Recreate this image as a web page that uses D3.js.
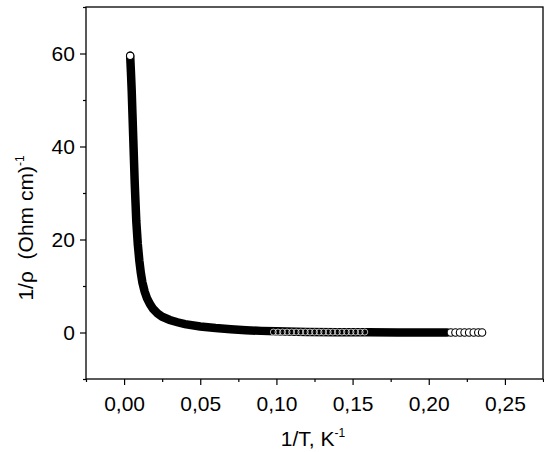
<!DOCTYPE html>
<html><head><meta charset="utf-8">
<script src="https://cdn.jsdelivr.net/npm/d3@7"></script>
<style>body{margin:0;background:#fff}text{font-family:"Liberation Sans",Arial,sans-serif}</style>
</head><body><svg id="c" width="544" height="452"></svg>
<script>
// dense measured part
var xs = [0.0040,0.0045,0.0050,0.0055,0.0060,0.0065,0.0070,0.0075,0.0080,0.0090,0.0100,0.0110,0.0120,0.0135,0.0150,0.0170,0.0190,0.0220,0.0250,0.0300,0.0350,0.0400,0.0500,0.0600,0.0700,0.0800,0.0900,0.1000,0.1200,0.1400,0.1600,0.1800,0.2000,0.2120];
var ys = [59.5,56,52,47,42,37,32,28,24,19,15.5,12.8,10.8,8.8,7.4,6.1,5.1,4.1,3.4,2.7,2.2,1.8,1.3,0.95,0.7,0.5,0.35,0.25,0.13,0.07,0.04,0.02,0.01,0.005];
// sparse points in the gap region and at the low-temperature end
var midX = [0.098,0.101,0.104,0.107,0.110,0.113,0.116,0.119,0.122,0.125,0.128,0.131,0.134,0.137,0.140,0.143,0.146,0.149,0.152,0.155,0.158];
var tailX = [0.2145,0.2175,0.2205,0.2235,0.2265,0.2295,0.2325,0.2350];
var tailY = [0,0,0,0,0,0,0,0];
var xTicks = [0,0.05,0.10,0.15,0.20,0.25];
var yTicks = [0,20,40,60];

var svg = d3.select("#c");
var L=86,R=543,T=7,B=379;
var x = d3.scaleLinear().domain([-0.025,0.275]).range([L,R]);
var y = d3.scaleLinear().domain([-10,70]).range([B,T]);

svg.append("rect").attr("x",L).attr("y",T).attr("width",R-L).attr("height",B-T)
  .attr("fill","none").attr("stroke","#000").attr("stroke-width",1.3);

var fmt = function(d){ return d3.format(".2f")(d).replace(".",","); };
var xAxis = svg.append("g").attr("transform","translate(0,"+B+")")
  .call(d3.axisBottom(x).tickValues(xTicks).tickFormat(fmt).tickSize(6).tickSizeOuter(0));
svg.append("g").attr("transform","translate(0,"+B+")")
  .call(d3.axisBottom(x).tickValues([-0.025,0.025,0.075,0.125,0.175,0.225,0.275]).tickFormat("").tickSize(3).tickSizeOuter(0));
var yAxis = svg.append("g").attr("transform","translate("+L+",0)")
  .call(d3.axisLeft(y).tickValues(yTicks).tickSize(6).tickSizeOuter(0));
svg.append("g").attr("transform","translate("+L+",0)")
  .call(d3.axisLeft(y).tickValues([-10,10,30,50,70]).tickFormat("").tickSize(3).tickSizeOuter(0));
svg.selectAll(".domain").remove();
svg.selectAll(".tick line").attr("stroke","#000").attr("stroke-width",1.2);
xAxis.selectAll("text").attr("font-size",21).attr("dy","1.1em").attr("fill","#000");
yAxis.selectAll("text").attr("font-size",21).attr("dx","-0.1em").attr("fill","#000");

var pts = xs.map(function(d,i){return [d,ys[i]];});
svg.append("path").datum(pts)
  .attr("d",d3.line().x(function(d){return x(d[0]);}).y(function(d){return y(d[1]);}))
  .attr("fill","none").attr("stroke","#000").attr("stroke-width",8.5).attr("stroke-linecap","round");
svg.selectAll(".mid").data(midX).enter().append("circle")
  .attr("cx",function(d){return x(d);}).attr("cy",y(0.1)).attr("r",3)
  .attr("fill","none").attr("stroke","#fff").attr("stroke-width",0.7);
svg.selectAll(".tail").data(tailX).enter().append("circle")
  .attr("cx",function(d){return x(d);}).attr("cy",function(d,i){return y(tailY[i]);}).attr("r",3.7)
  .attr("fill","#fff").attr("stroke","#000").attr("stroke-width",1.1);
svg.append("circle").attr("cx",x(xs[0])).attr("cy",y(ys[0])).attr("r",3.7)
  .attr("fill","#fff").attr("stroke","#000").attr("stroke-width",1.1);

svg.append("text").attr("x",313).attr("y",446).attr("text-anchor","middle").attr("font-size",21)
  .html('1/T, K<tspan dy="-9" font-size="12">-1</tspan>');
svg.append("text").attr("transform","translate(33,228) rotate(-90)").attr("text-anchor","middle").attr("font-size",21)
  .attr("xml:space","preserve")
  .html('1/ρ  (Ohm cm)<tspan dy="-9" font-size="12">-1</tspan>');
</script></body></html>
